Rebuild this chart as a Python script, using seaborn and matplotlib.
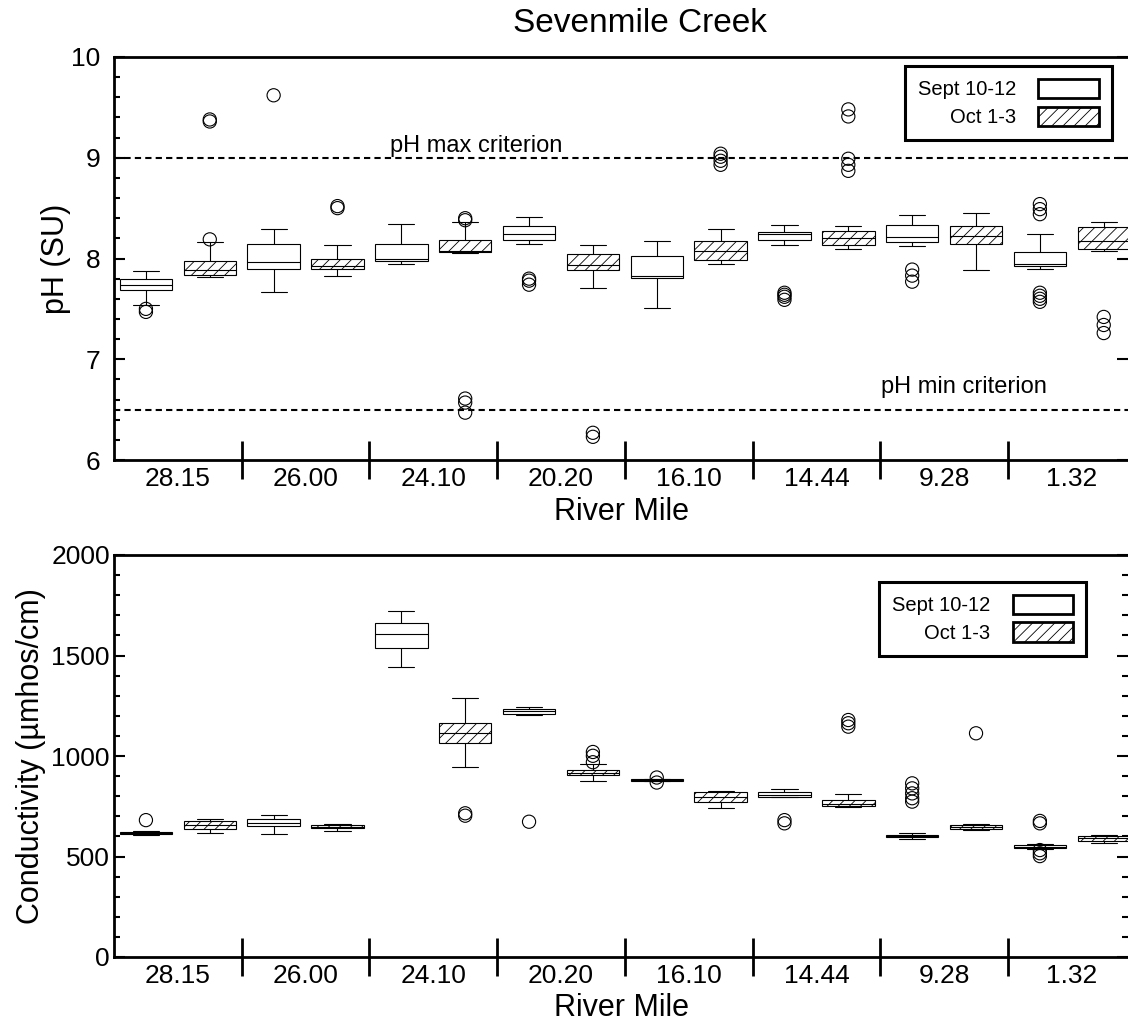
import numpy as np
import pandas as pd
import matplotlib
matplotlib.use("Agg")
import matplotlib.pyplot as plt
import matplotlib.patches as mpatches
from matplotlib.ticker import MultipleLocator
import seaborn as sns

# ---------------- data ----------------
miles = ["28.15", "26.00", "24.10", "20.20", "16.10", "14.44", "9.28", "1.32"]
dates = ["Sept 10-12", "Oct 1-3"]

# box statistics per river mile: [whisker low, Q1, median, Q3, whisker high]
ph_sept = [[7.54, 7.69, 7.74, 7.80, 7.88],
           [7.67, 7.90, 7.97, 8.14, 8.29],
           [7.95, 7.98, 8.00, 8.14, 8.34],
           [8.14, 8.18, 8.24, 8.32, 8.41],
           [7.51, 7.81, 7.83, 8.02, 8.17],
           [8.13, 8.18, 8.24, 8.26, 8.33],
           [8.12, 8.16, 8.21, 8.33, 8.43],
           [7.90, 7.93, 7.95, 8.06, 8.24]]
ph_oct = [[7.82, 7.84, 7.89, 7.98, 8.16],
          [7.83, 7.90, 7.93, 8.00, 8.13],
          [8.05, 8.06, 8.07, 8.18, 8.36],
          [7.71, 7.89, 7.94, 8.04, 8.13],
          [7.95, 7.99, 8.07, 8.17, 8.29],
          [8.09, 8.13, 8.20, 8.27, 8.32],
          [7.89, 8.14, 8.22, 8.32, 8.45],
          [8.07, 8.09, 8.17, 8.31, 8.36]]
ph_sept_out = [[7.50, 7.47], [9.62], [], [7.80, 7.78, 7.74], [],
               [7.66, 7.64, 7.62, 7.59], [7.89, 7.83, 7.77],
               [8.54, 8.49, 8.44, 7.66, 7.63, 7.60, 7.57]]
ph_oct_out = [[8.19, 9.38, 9.36], [8.52, 8.50], [8.40, 8.38, 6.61, 6.57, 6.47],
              [6.27, 6.23], [9.04, 9.01, 8.97, 8.93],
              [9.48, 9.41, 8.99, 8.93, 8.87], [], [7.42, 7.34, 7.26]]

cond_sept = [[608, 613, 617, 621, 626],
             [612, 650, 665, 685, 708],
             [1441, 1539, 1605, 1662, 1723],
             [1204, 1210, 1222, 1232, 1244],
             [874, 878, 881, 884, 888],
             [795, 797, 805, 822, 834],
             [589, 595, 602, 608, 615],
             [538, 541, 548, 556, 560]]
cond_oct = [[615, 635, 657, 675, 685],
            [627, 640, 648, 658, 662],
            [947, 1066, 1116, 1163, 1287],
            [877, 905, 917, 929, 959],
            [743, 773, 797, 819, 826],
            [745, 751, 760, 781, 811],
            [630, 638, 648, 657, 662],
            [566, 579, 590, 602, 607]]
cond_sept_out = [[681], [], [], [673], [893, 868], [681, 665],
                 [864, 839, 814, 790, 773], [677, 665, 532, 516, 502]]
cond_oct_out = [[], [], [715, 703], [1020, 1001, 969], [], [1179, 1163, 1146],
                [1113], []]

ph_limits = [9.0, 6.5]

# ---------------- style ----------------
sns.set_style("ticks")
plt.rcParams["font.family"] = ["Liberation Sans", "DejaVu Sans"]
plt.rcParams["hatch.linewidth"] = 0.6
plt.rcParams["hatch.color"] = "black"
for k in ("text.color", "axes.labelcolor", "xtick.color", "ytick.color",
          "axes.edgecolor"):
    plt.rcParams[k] = "black"

SEPT_C = "#ffffff"
OCT_C = "#fefefe"
palette = {dates[0]: SEPT_C, dates[1]: OCT_C}
offsets = {dates[0]: -0.25, dates[1]: 0.25}


def long_frame(sept, octo):
    rows = []
    for i, m in enumerate(miles):
        for d, src in zip(dates, (sept, octo)):
            for v in src[i]:
                rows.append((m, d, v))
    return pd.DataFrame(rows, columns=["mile", "date", "value"])


def out_frame(sept, octo):
    rows = []
    for i, m in enumerate(miles):
        for d, src in zip(dates, (sept, octo)):
            for v in src[i]:
                rows.append((i + offsets[d], d, v))
    return pd.DataFrame(rows, columns=["pos", "date", "value"])


def draw(ax, sept, octo, sept_out, octo_out, ypad):
    df = long_frame(sept, octo)
    sns.boxplot(data=df, x="mile", y="value", hue="date", order=miles,
                hue_order=dates, palette=palette, whis=(0, 100), width=1.0,
                gap=0.18, linecolor="black", linewidth=0.8, fliersize=0,
                legend=False, ax=ax)
    target = matplotlib.colors.to_rgba(OCT_C)
    for p in ax.patches:
        if np.allclose(p.get_facecolor(), target):
            p.set_hatch("///")
    od = out_frame(sept_out, octo_out)
    sns.scatterplot(data=od, x="pos", y="value", marker="o", s=90,
                    color="white", edgecolor="black", linewidth=0.8,
                    legend=False, zorder=4, ax=ax)
    ax.collections[-1].set_facecolor("none")

    ax.set_xlim(-0.5, 7.44)
    ax.set_xticks(range(len(miles)))
    ax.set_xticklabels(miles)
    ax.set_xticks(np.arange(0.5, len(miles) - 1, 1.0), minor=True)
    ax.tick_params(axis="x", which="major", length=0, pad=5, labelsize=19)
    ax.tick_params(axis="x", which="minor", direction="inout", length=27,
                   width=2, bottom=True)
    ax.tick_params(axis="y", which="major", direction="in", length=8,
                   width=1.5, labelsize=19, pad=ypad, right=True)
    ax.tick_params(axis="y", which="minor", direction="in", length=4.5,
                   width=1.5, right=True)
    ax.set_xlabel("River Mile", fontsize=22, labelpad=4)
    for s in ("left", "bottom", "top"):
        ax.spines[s].set_linewidth(2)
        ax.spines[s].set_color("black")
    ax.spines["right"].set_visible(False)


def add_legend(ax, anchor):
    handles = [mpatches.Patch(facecolor="white", edgecolor="black", lw=2),
               mpatches.Patch(facecolor="white", edgecolor="black", lw=2,
                              hatch="///")]
    leg = ax.legend(handles, dates, loc="upper right", bbox_to_anchor=anchor,
                    borderaxespad=0, markerfirst=False, frameon=True,
                    fancybox=False, edgecolor="black", framealpha=1,
                    fontsize=14.5, handlelength=3.0, handleheight=1.1,
                    handletextpad=1.1, labelspacing=0.35, borderpad=0.65)
    leg.get_frame().set_linewidth(2.2)


fig = plt.figure(figsize=(11.28, 10.26), dpi=100)
ax1 = fig.add_axes([114 / 1128, 1 - 460 / 1026, 1014 / 1128, 403 / 1026])
ax2 = fig.add_axes([114 / 1128, 1 - 957 / 1026, 1014 / 1128, 402 / 1026])

# ---- pH panel ----
draw(ax1, ph_sept, ph_oct, ph_sept_out, ph_oct_out, ypad=10)
ax1.set_ylim(6, 10)
ax1.yaxis.set_major_locator(MultipleLocator(1))
ax1.yaxis.set_minor_locator(MultipleLocator(0.2))
ax1.tick_params(axis="y", which="minor", right=False)
ax1.set_ylabel("pH (SU)", fontsize=22, labelpad=0)
for yv in ph_limits:
    ax1.axhline(yv, color="black", lw=1.5, ls=(0, (3, 2)), zorder=1)
ax1.text(2.335, ph_limits[0] + 0.06, "pH max criterion", ha="center",
         va="baseline", fontsize=17)
ax1.text(6.156, ph_limits[1] + 0.166, "pH min criterion", ha="center",
         va="baseline", fontsize=17)
ax1.set_title("Sevenmile Creek", fontsize=24, x=0.519, pad=18)
add_legend(ax1, (0.984, 0.978))

# ---- conductivity panel ----
draw(ax2, cond_sept, cond_oct, cond_sept_out, cond_oct_out, ypad=3)
ax2.set_ylim(0, 2000)
ax2.yaxis.set_major_locator(MultipleLocator(500))
ax2.yaxis.set_minor_locator(MultipleLocator(100))
ax2.set_ylabel("Conductivity (µmhos/cm)", fontsize=22, labelpad=4)
add_legend(ax2, (0.9586, 0.9336))

fig.savefig("out.png", dpi=100)
